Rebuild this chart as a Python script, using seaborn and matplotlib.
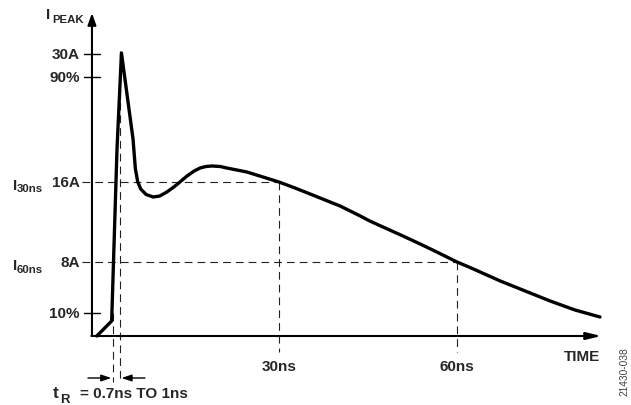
import numpy as np
import pandas as pd
import matplotlib.pyplot as plt
import seaborn as sns

# ==================== data ====================
# time in ns, current in schematic units (16A level = 15.4, 8A level = 7.4)
time_ns = [-0.7, 1.8, 2.7, 3.45, 5.4, 5.6, 5.8, 6.2, 6.7, 7.6, 8.8, 9.9, 11.1, 12.5,
           13.5, 14.5, 15.7, 16.7, 17.7, 18.7, 20.1, 21.2, 24.6, 27.3, 30.0, 32.7,
           36.1, 38.6, 40.3, 42.0, 43.7, 45.3, 47.9, 50.9, 53.8, 56.6, 60.0, 62.2,
           63.9, 67.3, 71.5, 75.7, 79.9, 84.1]
current = [0.0, 1.5, 18.7, 28.3, 19.7, 18.2, 16.7, 15.4, 14.7, 14.15, 13.9, 14.0, 14.4, 15.0,
           15.5, 16.0, 16.5, 16.8, 16.95, 17.0, 16.95, 16.8, 16.4, 15.9, 15.4, 14.8,
           14.0, 13.4, 13.0, 12.5, 12.0, 11.5, 10.8, 10.0, 9.2, 8.4, 7.4, 6.85,
           6.4, 5.5, 4.5, 3.5, 2.6, 1.9]

ytick_pos = [2.3, 25.9, 28.2]
ytick_labels = ["10%", "90%", "30A"]
level_pos = [15.4, 7.4]          # dashed current levels
level_labels = ["16A", "8A"]
level_names = ["30ns", "60ns"]
level_times = [30, 60]
rise_times = [2.0, 3.2]          # 10% and 90% crossing of the rising edge

curve = pd.DataFrame({"t": time_ns, "i": current})

# ==================== figure ====================
sns.set_style("white")
plt.rcParams['font.family'] = ['Liberation Sans', 'DejaVu Sans']
plt.rcParams['font.weight'] = 'bold'

fig = plt.figure(figsize=(6.31, 4.06), dpi=100)
ax = fig.add_axes([0, 0, 1, 1])
ax.set_xlim(-17.02, 89.33)
ax.set_ylim(-6.9, 33.7)
ax.axis("off")

fs = 11
dash_kw = dict(color="#222222", lw=0.8, dashes=(7, 4.5))
arrow = lambda hl, hw, lw: dict(arrowstyle=f"-|>,head_length={hl},head_width={hw}", lw=lw,
                                color="black", shrinkA=0, shrinkB=0)

# axes with arrow heads
x0 = -1.52
ax.annotate("", xy=(x0, 32.3), xytext=(x0, 0), arrowprops=arrow(0.7, 0.25, 1.5))
ax.annotate("", xy=(84.3, 0), xytext=(x0 - 0.1, 0), arrowprops=arrow(0.9, 0.22, 1.5))

# y ticks
for yp, lab in zip(ytick_pos, ytick_labels):
    ax.plot([-2.87, -0.17], [yp, yp], color="black", lw=1.0)
    ax.text(-3.54, yp, lab, ha="right", va="center", fontsize=fs, fontweight="bold")

# dashed level lines, their labels and the time ticks
sub_base = [(14.75, 14.45), (6.7, 6.4)]
for yp, lab, name, tx, (yb, ys) in zip(level_pos, level_labels, level_names, level_times, sub_base):
    ax.plot([-3.2, tx], [yp, yp], **dash_kw)
    ax.plot([tx, tx], [yp, -1.6], **dash_kw)
    ax.text(-3.54, yp, lab, ha="right", va="center", fontsize=fs, fontweight="bold")
    ax.text(-14.83, yb, "I", ha="left", va="baseline", fontsize=11)
    ax.text(-14.25, ys, name, ha="left", va="baseline", fontsize=8.2)
    ax.text(tx, -3.0, name, ha="center", va="center", fontsize=fs, fontweight="bold")

# rise-time markers
ax.plot([rise_times[0]] * 2, [2.3, -4.6], **dash_kw)
ax.plot([rise_times[1]] * 2, [28.5, -4.6], **dash_kw)
ax.annotate("", xy=(1.75, -4.2), xytext=(-2.2, -4.2), arrowprops=arrow(0.6, 0.2, 1.0))
ax.annotate("", xy=(3.45, -4.2), xytext=(7.4, -4.2), arrowprops=arrow(0.6, 0.2, 1.0))
ax.text(-8.2, -6.1, "t", ha="left", va="baseline", fontsize=12.5)
ax.text(-6.9, -6.6, "R", ha="left", va="baseline", fontsize=9.5)
ax.text(-3.54, -6.1, "= 0.7ns TO 1ns", ha="left", va="baseline", fontsize=fs)

# waveform
sns.lineplot(data=curve, x="t", y="i", sort=False, estimator=None, color="black", lw=2.4, ax=ax)
ax.lines[-1].set_solid_joinstyle("round")

# other labels
ax.text(-9.27, 31.77, "I", ha="left", va="baseline", fontsize=11)
ax.text(-8.2, 31.43, "PEAK", ha="left", va="baseline", fontsize=8.2)
ax.text(84.1, -2.0, "TIME", ha="right", va="center", fontsize=fs, fontweight="bold")
ax.text(88.15, -3.5, "21430-038", rotation=90, ha="center", va="center", fontsize=7.3,
        fontweight="normal", color="#444444")

plt.savefig("out.png", dpi=100, facecolor="white")
